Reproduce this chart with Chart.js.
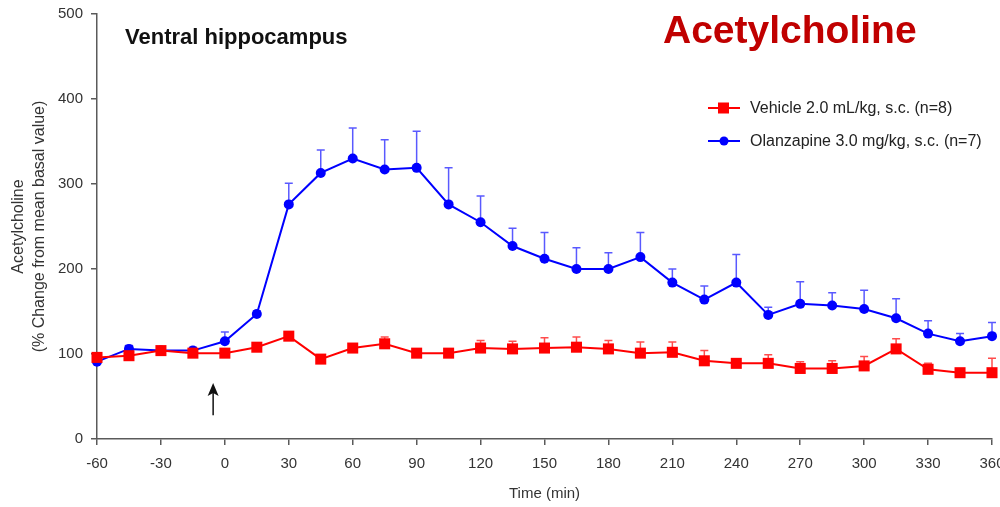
<!DOCTYPE html>
<html>
<head>
<meta charset="utf-8">
<script src="https://cdn.jsdelivr.net/npm/chart.js@4.4.1/dist/chart.umd.min.js"></script>
<style>
  html, body { margin: 0; padding: 0; background: #ffffff; }
  #wrap { width: 1000px; height: 507px; position: relative; }
</style>
</head>
<body>
<div id="wrap"><canvas id="c" width="1000" height="507"></canvas></div>
<script>
// Sampling times (min) relative to drug administration
const timeMin = [-60, -45, -30, -15, 0, 15, 30, 45, 60, 75, 90, 105, 120, 135, 150,
                 165, 180, 195, 210, 225, 240, 255, 270, 285, 300, 315, 330, 345, 360];

// Vehicle 2.0 mL/kg, s.c. (n=8): mean and SEM (% of basal)
const vehicleMean = [96, 98, 104, 101, 101, 108, 121, 94, 107, 112, 101, 101, 107, 106, 107,
                     108, 106, 101, 102, 92, 89, 89, 83, 83, 86, 106, 82, 78, 78];
const vehicleSem  = [3, 3, 4, 3, 4, 5, 5, 5, 5, 8, 5, 5, 9, 9, 12,
                     12, 10, 13, 12, 12, 3, 10, 8, 9, 11, 12, 7, 3, 17];

// Olanzapine 3.0 mg/kg, s.c. (n=7): mean and SEM (% of basal)
const olanzMean = [91, 106, 104, 104, 115, 147, 276, 313, 330, 317, 319, 276, 255, 227, 212,
                   200, 200, 214, 184, 164, 184, 146, 159, 157, 153, 142, 124, 115, 121];
const olanzSem  = [3, 4, 3, 4, 11, 4, 25, 27, 36, 35, 43, 43, 31, 21, 31,
                   25, 19, 29, 16, 16, 33, 9, 26, 15, 22, 23, 15, 9, 16];

// Axis ticks
const xTicks = [-60, -30, 0, 30, 60, 90, 120, 150, 180, 210, 240, 270, 300, 330, 360];
const yTicks = [0, 100, 200, 300, 400, 500];

// Injection marker (time, acetylcholine range of the arrow)
const injectionTime = [-5.5];
const injectionArrow = [28, 66];

const seriesLabels = ['Vehicle 2.0 mL/kg, s.c. (n=8)', 'Olanzapine 3.0 mg/kg, s.c. (n=7)'];
const semBySeries = [vehicleSem, olanzSem];

const FONT = 'Arial, "Liberation Sans", sans-serif';

const toPoints = (vals) => vals.map((v, i) => ({ x: timeMin[i], y: v }));

// Upward-only SEM bars with caps
const errorBars = {
  id: 'errorBars',
  beforeDatasetsDraw(chart) {
    const { ctx, scales: { x, y } } = chart;
    const colors = ['rgba(255,0,0,0.7)', 'rgba(0,0,255,0.65)'];
    chart.data.datasets.forEach((ds, i) => {
      const sem = semBySeries[i];
      ctx.save();
      ctx.strokeStyle = colors[i];
      ctx.lineWidth = 1.5;
      ds.data.forEach((p, j) => {
        if (!sem[j]) return;
        const px = x.getPixelForValue(p.x);
        const py = y.getPixelForValue(p.y);
        const pt = y.getPixelForValue(p.y + sem[j]);
        ctx.beginPath();
        ctx.moveTo(px, py);
        ctx.lineTo(px, pt);
        ctx.moveTo(px - 4, pt);
        ctx.lineTo(px + 4, pt);
        ctx.stroke();
      });
      ctx.restore();
    });
  }
};

// Titles, legend and injection arrow
const decorations = {
  id: 'decorations',
  afterDraw(chart) {
    const { ctx, scales: { x, y } } = chart;
    ctx.save();

    ctx.fillStyle = '#111111';
    ctx.font = 'bold 22px ' + FONT;
    ctx.textAlign = 'left';
    ctx.textBaseline = 'alphabetic';
    ctx.fillText('Ventral hippocampus', 125, 44);

    ctx.fillStyle = '#c00000';
    ctx.font = 'bold 39px ' + FONT;
    ctx.fillText('Acetylcholine', 663, 43);

    // legend
    const rows = [108, 141];
    ctx.font = '16px ' + FONT;
    ctx.textBaseline = 'middle';
    chart.data.datasets.forEach((ds, i) => {
      const yy = rows[i];
      ctx.strokeStyle = ds.borderColor;
      ctx.lineWidth = 2;
      ctx.beginPath();
      ctx.moveTo(708, yy);
      ctx.lineTo(740, yy);
      ctx.stroke();
      ctx.fillStyle = ds.backgroundColor;
      if (ds.pointStyle === 'rect') {
        ctx.fillRect(718, yy - 5.5, 11, 11);
      } else {
        ctx.beginPath();
        ctx.arc(724, yy, 4.5, 0, Math.PI * 2);
        ctx.fill();
      }
      ctx.fillStyle = '#222222';
      ctx.fillText(seriesLabels[i], 750, yy + 1);
    });

    // arrow marking injection
    const ax = x.getPixelForValue(injectionTime[0]);
    const yBot = y.getPixelForValue(injectionArrow[0]);
    const yTop = y.getPixelForValue(injectionArrow[1]);
    ctx.strokeStyle = '#111111';
    ctx.fillStyle = '#111111';
    ctx.lineWidth = 1.5;
    ctx.beginPath();
    ctx.moveTo(ax, yBot);
    ctx.lineTo(ax, yTop + 8);
    ctx.stroke();
    ctx.beginPath();
    ctx.moveTo(ax, yTop);
    ctx.lineTo(ax - 5.5, yTop + 13);
    ctx.lineTo(ax, yTop + 10);
    ctx.lineTo(ax + 5.5, yTop + 13);
    ctx.closePath();
    ctx.fill();

    ctx.restore();
  }
};

new Chart(document.getElementById('c'), {
  type: 'line',
  data: {
    datasets: [
      {
        label: seriesLabels[0],
        data: toPoints(vehicleMean),
        borderColor: '#ff0000',
        backgroundColor: '#ff0000',
        borderWidth: 2,
        pointStyle: 'rect',
        pointRadius: 7.8,
        pointHoverRadius: 7.8,
        pointBorderWidth: 0,
        tension: 0,
        clip: false
      },
      {
        label: seriesLabels[1],
        data: toPoints(olanzMean),
        borderColor: '#0000ff',
        backgroundColor: '#0000ff',
        borderWidth: 2,
        pointStyle: 'circle',
        pointRadius: 5,
        pointHoverRadius: 5,
        pointBorderWidth: 0,
        tension: 0,
        clip: false
      }
    ]
  },
  options: {
    responsive: false,
    animation: false,
    devicePixelRatio: 1,
    layout: { padding: { top: 14, right: 8, left: 0, bottom: 0 } },
    plugins: {
      legend: { display: false },
      tooltip: { enabled: false },
      title: { display: false }
    },
    scales: {
      x: {
        type: 'linear',
        min: -60,
        max: 360,
        afterBuildTicks: (s) => { s.ticks = xTicks.map(v => ({ value: v })); },
        afterFit: (s) => { s.height = 68; s.paddingLeft = 0; s.paddingRight = 0; },
        ticks: {
          autoSkip: false,
          maxRotation: 0,
          padding: 10,
          color: '#333333',
          font: { family: FONT, size: 15 }
        },
        grid: { drawOnChartArea: false, drawTicks: true, tickLength: 6, color: '#5a5a5a', lineWidth: 1.5 },
        border: { display: true, color: '#5a5a5a', width: 1.5 },
        title: {
          display: true,
          text: 'Time (min)',
          color: '#333333',
          font: { family: FONT, size: 15 },
          padding: { top: 0, bottom: 4 }
        }
      },
      y: {
        min: 0,
        max: 500,
        afterBuildTicks: (s) => { s.ticks = yTicks.map(v => ({ value: v })); },
        afterFit: (s) => { s.width = 97; s.paddingTop = 0; s.paddingBottom = 0; },
        ticks: {
          padding: 8,
          color: '#333333',
          font: { family: FONT, size: 15 }
        },
        grid: { drawOnChartArea: false, drawTicks: true, tickLength: 6, color: '#5a5a5a', lineWidth: 1.5 },
        border: { display: true, color: '#5a5a5a', width: 1.5 },
        title: {
          display: true,
          text: ['Acetylcholine', '(% Change from mean basal value)'],
          color: '#333333',
          font: { family: FONT, size: 16, lineHeight: 1.3 },
          padding: { top: 8, bottom: 0 }
        }
      }
    }
  },
  plugins: [errorBars, decorations]
});
</script>
</body>
</html>
